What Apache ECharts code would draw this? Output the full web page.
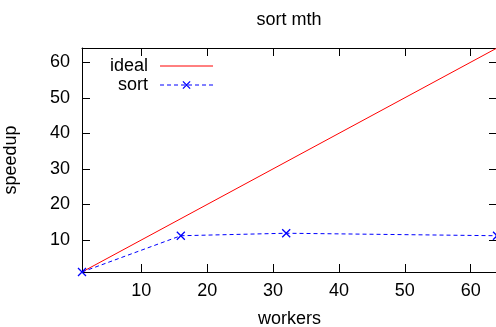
<!DOCTYPE html>
<html>
<head>
<meta charset="utf-8">
<script src="https://cdn.jsdelivr.net/npm/echarts@6/dist/echarts.min.js"></script>
<style>
html,body{margin:0;padding:0;background:#fff;}
#chart{width:496px;height:327px;}
</style>
</head>
<body>
<div id="chart"></div>
<script>
// ---- data ----
const titleText = 'sort mth';
const xName = 'workers';
const yName = 'speedup';
const seriesNames = ['ideal', 'sort'];
const idealX = [1, 64];
const idealY = [1, 64];
const sortX = [1, 16, 32, 64];
const sortY = [1, 11.2, 11.9, 11.2];
const xTicks = [10, 20, 30, 40, 50, 60];
const yTicks = [10, 20, 30, 40, 50, 60];
const xMin = 1, xMax = 64, yMin = 1, yMax = 64;

const FONT = 'Liberation Sans, Arial, Helvetica, sans-serif';
const FS = 18;
const axisLineStyle = { color: '#000', width: 1 };

function zip(a, b) { return a.map((v, i) => [v, b[i]]); }

function xAxisDef(pos, labels) {
  return {
    type: 'value', position: pos, min: xMin, max: xMax,
    name: labels ? xName : '', nameLocation: 'middle', nameGap: 38,
    nameTextStyle: { fontFamily: FONT, fontSize: FS, color: '#000' },
    axisLine: { show: true, onZero: false, lineStyle: axisLineStyle },
    axisTick: { show: true, inside: true, length: 8, customValues: xTicks, lineStyle: axisLineStyle },
    axisLabel: { show: labels, customValues: xTicks, margin: 10, fontFamily: FONT, fontSize: FS, color: '#000' },
    splitLine: { show: false }
  };
}
function yAxisDef(pos, labels) {
  return {
    type: 'value', position: pos, min: yMin, max: yMax,
    name: labels ? yName : '', nameLocation: 'middle', nameGap: 62,
    nameTextStyle: { fontFamily: FONT, fontSize: FS, color: '#000' },
    axisLine: { show: true, onZero: false, lineStyle: axisLineStyle },
    axisTick: { show: true, inside: true, length: 8, customValues: yTicks, lineStyle: axisLineStyle },
    axisLabel: { show: labels, customValues: yTicks, margin: 12, fontFamily: FONT, fontSize: FS, color: '#000' },
    splitLine: { show: false }
  };
}

const chart = echarts.init(document.getElementById('chart'), null, { renderer: 'canvas' });
chart.setOption({
  animation: false,
  backgroundColor: '#fff',
  title: {
    text: titleText, left: 289, top: 11, textAlign: 'center', padding: 0,
    textStyle: { fontFamily: FONT, fontSize: FS, fontWeight: 'normal', color: '#000' }
  },
  legend: {
    data: [
      { name: seriesNames[0], itemStyle: { opacity: 0 } },
      { name: seriesNames[1], itemStyle: { borderWidth: 1.3, borderColor: '#0000ff' } }
    ],
    orient: 'vertical', align: 'right',
    left: 110, top: 57, padding: 0, itemGap: 1,
    itemWidth: 53, itemHeight: 9,
    lineStyle: { width: 1 },
    textStyle: { fontFamily: FONT, fontSize: FS, color: '#000', padding: [0, 7, 0, 0] }
  },
  grid: { left: 82, top: 48, width: 415, height: 224, containLabel: false, outerBoundsMode: 'none' },
  xAxis: [xAxisDef('bottom', true), xAxisDef('top', false)],
  yAxis: [yAxisDef('left', true), yAxisDef('right', false)],
  series: [
    {
      name: seriesNames[0], type: 'line', xAxisIndex: 0, yAxisIndex: 0,
      data: zip(idealX, idealY), symbol: 'none', clip: false,
      lineStyle: { color: '#ff0000', width: 1 }, itemStyle: { color: '#ff0000' }
    },
    {
      name: seriesNames[1], type: 'line', xAxisIndex: 0, yAxisIndex: 0,
      data: zip(sortX, sortY), clip: false,
      symbol: 'path://M0,0L10,10M10,0L0,10', symbolSize: 8,
      lineStyle: { color: '#0000ff', width: 1, type: [4, 3] },
      itemStyle: { color: '#0000ff', borderColor: '#0000ff', borderWidth: 1.3 }
    }
  ]
});
</script>
</body>
</html>
